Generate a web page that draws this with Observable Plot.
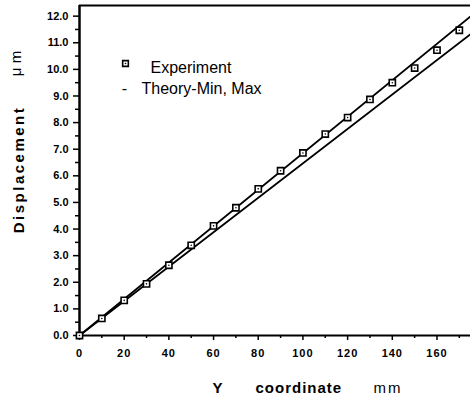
<!DOCTYPE html>
<html><head><meta charset="utf-8">
<script src="https://cdn.jsdelivr.net/npm/d3@7"></script>
<script src="https://cdn.jsdelivr.net/npm/@observablehq/plot@0.6"></script>
<style>body{margin:0;background:#fff} svg{display:block}</style>
</head><body><div id="chart"></div>
<script>
// Experiment data: Y coordinate (mm) vs displacement (µm)
const coordMM = [0, 10, 20, 30, 40, 50, 60, 70, 80, 90, 100, 110, 120, 130, 140, 150, 160, 170];
const displacement = [0.0, 0.64, 1.32, 1.94, 2.64, 3.39, 4.12, 4.8, 5.51, 6.19, 6.86, 7.57, 8.19, 8.87, 9.5, 10.05, 10.72, 11.47];
// Theory lines (min and max)
const theoryX = [0, 175];
const theoryMin = [0, 11.32];
const theoryMax = [0, 11.99];
// Axes
const xDomain = [0, 175];
const yDomain = [0, 12.4];
const xTicks = [0, 20, 40, 60, 80, 100, 120, 140, 160];
const xMinor = [10, 30, 50, 70, 90, 110, 130, 150, 170];
const yTicks = [0, 1, 2, 3, 4, 5, 6, 7, 8, 9, 10, 11, 12];
const yMinor = [0.5, 1.5, 2.5, 3.5, 4.5, 5.5, 6.5, 7.5, 8.5, 9.5, 10.5, 11.5];
const legendLabels = ["Experiment", "Theory-Min, Max"];
const xTitle = ["Y", "coordinate", "mm"];
const yTitle = ["Displacement", "\u03bc m"];

const exp = coordMM.map((x, i) => ({x, y: displacement[i]}));
const tMin = theoryX.map((x, i) => ({x, y: theoryMin[i]}));
const tMax = theoryX.map((x, i) => ({x, y: theoryMax[i]}));

const font = "'Liberation Sans', Arial, Helvetica, sans-serif";

const chart = Plot.plot({
  width: 470, height: 395,
  marginLeft: 79, marginRight: 0, marginTop: 5, marginBottom: 60,
  style: {fontFamily: font, background: "white", color: "black"},
  x: {domain: xDomain},
  y: {domain: yDomain},
  marks: [
    Plot.axisY({ticks: yMinor, tickSize: 4, tickFormat: () => "", label: null, strokeWidth: 1.5}),
    Plot.axisY({ticks: yTicks, tickSize: 6, tickPadding: 5, tickFormat: d3.format(".1f"), label: null, fontSize: 11, fontWeight: "bold", strokeWidth: 1.5}),
    Plot.axisX({ticks: xMinor, tickSize: 3, tickFormat: () => "", label: null, strokeWidth: 1.5}),
    Plot.axisX({ticks: xTicks, tickSize: 5, tickPadding: 9, label: null, fontSize: 11, fontWeight: "bold", strokeWidth: 1.5}),
    Plot.ruleX([xDomain[0]], {stroke: "black", strokeWidth: 2.5}),
    Plot.ruleY([yDomain[0]], {stroke: "black", strokeWidth: 2}),
    Plot.ruleY([yDomain[1]], {stroke: "black", strokeWidth: 2}),
    Plot.line(tMin, {x: "x", y: "y", stroke: "black", strokeWidth: 1.8}),
    Plot.line(tMax, {x: "x", y: "y", stroke: "black", strokeWidth: 1.8}),
    Plot.dot(exp, {x: "x", y: "y", symbol: "square", r: 3.5, stroke: "black", strokeWidth: 1.6, fill: "white"}),
    Plot.dot(exp, {x: "x", y: "y", r: 0.8, fill: "black"}),
    // legend
    Plot.dot([0], {frameAnchor: "top-left", dx: 46, dy: 58, symbol: "square", r: 3.2, stroke: "black", strokeWidth: 1.6, fill: "white"}),
    Plot.dot([0], {frameAnchor: "top-left", dx: 46, dy: 58, r: 0.8, fill: "black"}),
    Plot.text([legendLabels[0]], {text: d => d, frameAnchor: "top-left", dx: 71, dy: 67, textAnchor: "start", lineAnchor: "bottom", fontSize: 16}),
    Plot.text(["-"], {text: d => d, frameAnchor: "top-left", dx: 45, dy: 88, textAnchor: "middle", lineAnchor: "bottom", fontSize: 16}),
    Plot.text([legendLabels[1]], {text: d => d, frameAnchor: "top-left", dx: 62, dy: 88, textAnchor: "start", lineAnchor: "bottom", fontSize: 16}),
    // axis titles
    Plot.text([xTitle[0]], {text: d => d, frameAnchor: "bottom-left", dx: 138, dy: 57, textAnchor: "middle", lineAnchor: "bottom", fontSize: 15, fontWeight: "bold"}),
    Plot.text([xTitle[1]], {text: d => d, frameAnchor: "bottom-left", dx: 176, dy: 57, textAnchor: "start", lineAnchor: "bottom", fontSize: 15, fontWeight: "bold"}),
    Plot.text([xTitle[2]], {text: d => d, frameAnchor: "bottom-left", dx: 294, dy: 57, textAnchor: "start", lineAnchor: "bottom", fontSize: 15}),
    Plot.text([yTitle[0]], {text: d => d, frameAnchor: "left", dx: -60, dy: -1, rotate: -90, textAnchor: "middle", lineAnchor: "middle", fontSize: 15, fontWeight: "bold"}),
    Plot.text([yTitle[1]], {text: d => d, frameAnchor: "top-left", dx: -63, dy: 58, rotate: -90, textAnchor: "middle", lineAnchor: "middle", fontSize: 15})
  ]
});
const root = d3.select(chart);
const xTickStr = xTicks.map(String);
const yTickStr = yTicks.map(d3.format(".1f"));
root.selectAll("text").each(function() {
  const t = this.textContent;
  const s = d3.select(this);
  if (xTickStr.includes(t)) s.style("letter-spacing", "1px").style("font-size", "11px").style("font-weight", "bold");
  if (yTickStr.includes(t)) s.style("font-size", "11px").style("font-weight", "bold");
  if (t === xTitle[1]) s.style("letter-spacing", "1px");
  if (t === xTitle[2]) s.style("letter-spacing", "2px");
  if (t === yTitle[0]) s.style("letter-spacing", "2.5px");
});
document.getElementById("chart").append(chart);
</script>
</body></html>
